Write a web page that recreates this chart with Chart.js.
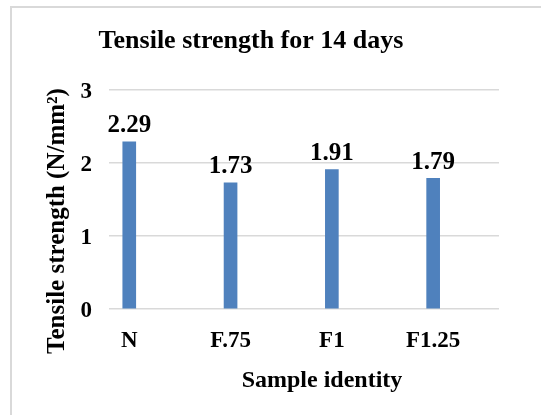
<!DOCTYPE html>
<html>
<head>
<meta charset="utf-8">
<script src="https://cdn.jsdelivr.net/npm/chart.js@4/dist/chart.umd.min.js"></script>
<style>
  html, body { margin: 0; padding: 0; background: #fff; overflow: hidden; }
  .frame {
    position: absolute; left: 10px; top: 6px;
    width: 700px; height: 600px;
    border: 2px solid #d9d9d9;
  }
  #chart { position: absolute; left: 0; top: 0; }
</style>
</head>
<body>
<div class="frame"></div>
<canvas id="chart" width="541" height="415"></canvas>
<script>
// ===== Datos =====
const categories = ['N', 'F.75', 'F1', 'F1.25'];
const tensileValues = [2.29, 1.73, 1.91, 1.79];
const yTicks = [0, 1, 2, 3];

const chartTitle = 'Tensile strength for 14 days';
const yTitle = 'Tensile strength (N/mm²)';
const xTitle = 'Sample identity';

const serif = '"Liberation Serif", "Times New Roman", serif';
const barColor = '#4f81bd';
const gridColor = '#d9d9d9';

// Textos: título, títulos de ejes y etiquetas de valor
const textPlugin = {
    id: 'textos',
    afterDatasetsDraw(chart) {
        const ctx = chart.ctx;
        ctx.save();
        ctx.fillStyle = '#000';
        ctx.textAlign = 'center';
        ctx.textBaseline = 'middle';

        // etiquetas de valor sobre cada barra
        ctx.font = 'bold 25px ' + serif;
        const meta = chart.getDatasetMeta(0);
        meta.data.forEach((bar, i) => {
            ctx.fillText(tensileValues[i].toFixed(2), bar.x, bar.y - 16);
        });

        ctx.font = 'bold 26px ' + serif;
        ctx.fillText(chartTitle, 251, 41);

        ctx.font = 'bold 24px ' + serif;
        ctx.fillText(xTitle, 322, 381);

        ctx.font = 'bold 25px ' + serif;
        ctx.translate(58, 221);
        ctx.rotate(-Math.PI / 2);
        ctx.fillText(yTitle, 0, 0);
        ctx.restore();
    }
};

const ctx = document.getElementById('chart').getContext('2d');
const chart = new Chart(ctx, {
    type: 'bar',
    data: {
        datasets: [{
            label: 'Tensile strength',
            data: tensileValues.map((v, i) => ({ x: i, y: v })),
            backgroundColor: barColor,
            barThickness: 13,
        }]
    },
    options: {
        responsive: false,
        animation: false,
        layout: { padding: { left: 0, right: 42, top: 90, bottom: 0 } },
        plugins: {
            legend: { display: false },
            tooltip: { enabled: false },
        },
        scales: {
            x: {
                type: 'linear',
                min: -0.2,
                max: 3.65,
                offset: false,
                grid: { display: false, offset: false },
                border: { display: false },
                afterBuildTicks: (scale) => {
                    scale.ticks = categories.map((_, i) => ({ value: i }));
                },
                afterFit: (scale) => { scale.height = 106; },
                ticks: {
                    autoSkip: false,
                    maxRotation: 0,
                    padding: 10,
                    color: '#000',
                    font: { family: serif, size: 23, weight: 'bold' },
                    callback: (v) => categories[v],
                },
            },
            y: {
                min: 0,
                max: 3,
                afterBuildTicks: (scale) => {
                    scale.ticks = yTicks.map(v => ({ value: v }));
                },
                afterFit: (scale) => { scale.width = 109; },
                grid: { color: gridColor, lineWidth: 1.5, drawTicks: false },
                border: { display: false },
                ticks: {
                    padding: 17,
                    labelOffset: 2,
                    color: '#000',
                    font: { family: serif, size: 23, weight: 'bold' },
                },
            }
        }
    },
    plugins: [textPlugin]
});
</script>
</body>
</html>
